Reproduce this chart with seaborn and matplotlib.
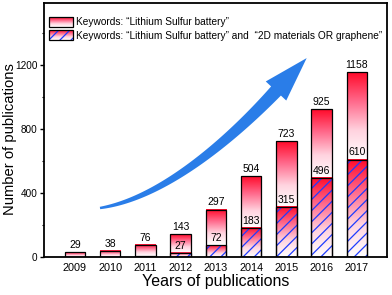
import numpy as np
import pandas as pd
import matplotlib
matplotlib.use("Agg")
import matplotlib.pyplot as plt
import seaborn as sns
from matplotlib.colors import LinearSegmentedColormap
from matplotlib.patches import Rectangle, Polygon
from matplotlib.image import BboxImage
from matplotlib.transforms import Bbox, TransformedBbox, Affine2D
from matplotlib.legend_handler import HandlerBase
from matplotlib.ticker import AutoMinorLocator

# ── Data ─────────────────────────────────────────────────────────────────────
years = ["2009", "2010", "2011", "2012", "2013", "2014", "2015", "2016", "2017"]
total = [29, 38, 76, 143, 297, 504, 723, 925, 1158]
graphene = [0, 0, 5, 27, 72, 183, 315, 496, 610]
graphene_labels = ["", "", "", "27", "72", "183", "315", "496", "610"]

legend_labels = [
    "Keywords: \u201cLithium Sulfur battery\u201d",
    "Keywords: \u201cLithium Sulfur battery\u201d and  \u201c2D materials OR graphene\u201d",
]

RED_WHITE = LinearSegmentedColormap.from_list(
    "red_white", ["#ffffff", "#ffd3df", "#ff6a8c", "#ff0a2a"])
HATCH_BLUE = "#1f3cff"
ARROW_BLUE = "#2a7de8"
W, H = 392, 295

sns.set_theme(style="ticks")
plt.rcParams["font.family"] = ["Liberation Sans", "DejaVu Sans"]
plt.rcParams["hatch.linewidth"] = 0.9
plt.rcParams["text.color"] = "black"
plt.rcParams["axes.labelcolor"] = "black"
plt.rcParams["xtick.color"] = "black"
plt.rcParams["ytick.color"] = "black"

df = pd.DataFrame({"year": years, "total": total, "graphene": graphene})

fig = plt.figure(figsize=(W / 100, H / 100), dpi=100)
ax = fig.add_axes([0.111, 0.129, 0.876, 0.861])

sns.barplot(data=df, x="year", y="total", width=0.58, color="white",
            edgecolor="black", linewidth=0.9, errorbar=None, ax=ax)
sns.barplot(data=df, x="year", y="graphene", width=0.58, color="white",
            edgecolor="black", linewidth=0.9, errorbar=None, ax=ax)

outer = ax.containers[0]
inner = ax.containers[1]
grad = np.linspace(0, 1, 256).reshape(-1, 1)

for p_out, p_in in zip(outer.patches, inner.patches):
    x0, w = p_out.get_x(), p_out.get_width()
    top, mid = p_out.get_height(), p_in.get_height()
    # outer gradient over the visible part of the bar
    ax.imshow(grad, cmap=RED_WHITE, origin="lower", aspect="auto",
              extent=(x0, x0 + w, mid, top), zorder=1.5, interpolation="bilinear")
    # inner gradient
    if mid > 0:
        ax.imshow(grad, cmap=RED_WHITE, origin="lower", aspect="auto",
                  extent=(x0, x0 + w, 0, mid), zorder=1.6, interpolation="bilinear")
    p_out.set_facecolor("none")
    p_out.set_zorder(3)
    # hatch on inner bar
    p_in.set_facecolor("none")
    p_in.set_edgecolor(HATCH_BLUE)
    p_in.set_hatch("///")
    p_in.set_linewidth(0)
    p_in.set_zorder(2)
    ax.add_patch(Rectangle((x0, 0), w, mid, facecolor="none",
                           edgecolor="black", linewidth=0.9, zorder=3))

ax.bar_label(outer, labels=[str(v) for v in total], padding=1.5, fontsize=7.5, zorder=4)
ax.bar_label(inner, labels=graphene_labels, padding=1.5, fontsize=7.5, zorder=4)

# ── Trend arrow (decoration, in pixel space) ─────────────────────────────────
ctrl = np.array([[100, 208], [165, 198], [235, 135], [276, 91]], dtype=float)
t = np.linspace(0, 1, 100)[:, None]
curve = ((1 - t) ** 3 * ctrl[0] + 3 * (1 - t) ** 2 * t * ctrl[1]
         + 3 * (1 - t) * t ** 2 * ctrl[2] + t ** 3 * ctrl[3])
deriv = (3 * (1 - t) ** 2 * (ctrl[1] - ctrl[0]) + 6 * (1 - t) * t * (ctrl[2] - ctrl[1])
         + 3 * t ** 2 * (ctrl[3] - ctrl[2]))
unit = deriv / np.linalg.norm(deriv, axis=1, keepdims=True)
normal = np.column_stack([-unit[:, 1], unit[:, 0]])
half = (1.2 + 5.5 * t[:, 0] ** 0.9)[:, None]
left, right = curve + normal * half, curve - normal * half
u, n = unit[-1], normal[-1]
head = [ctrl[3] + n * 14, ctrl[3] + u * 45, ctrl[3] - n * 14]
arrow_xy = np.vstack([left, head, right[::-1]])
px_to_fig = Affine2D().scale(1 / W, -1 / H).translate(0, 1) + fig.transFigure
ax.add_patch(Polygon(arrow_xy, closed=True, facecolor=ARROW_BLUE, edgecolor="none",
                     transform=px_to_fig, zorder=2.5))

# ── Axes ─────────────────────────────────────────────────────────────────────
ax.set_xlim(-0.89, 8.85)
ax.set_ylim(0, 1590)
ax.set_yticks([0, 400, 800, 1200])
ax.yaxis.set_minor_locator(AutoMinorLocator(2))
ax.tick_params(axis="both", which="major", labelsize=7.8, length=2.8, width=1.0,
               direction="out", pad=1.5)
ax.tick_params(axis="y", which="major", labelsize=7.2)
ax.tick_params(axis="y", which="minor", length=1.8, width=0.8)
ax.tick_params(axis="x", length=0, pad=4)
for s in ax.spines.values():
    s.set_visible(True)
    s.set_linewidth(1.3)
    s.set_color("black")

ax.set_xlabel("Years of publications", fontsize=11.5, labelpad=1)
ax.set_ylabel("Number of publications", fontsize=10.6)
ax.yaxis.set_label_coords(-0.078, 0.466)


# ── Legend with gradient swatches ────────────────────────────────────────────
class GradientHandler(HandlerBase):
    def __init__(self, hatch=False):
        super().__init__()
        self.hatch = hatch

    def create_artists(self, legend, orig_handle, xdescent, ydescent,
                       width, height, fontsize, trans):
        bbox = TransformedBbox(Bbox.from_bounds(-xdescent, -ydescent, width, height), trans)
        img = BboxImage(bbox, cmap=RED_WHITE, interpolation="bilinear")
        img.set_data(grad[::-1])
        arts = [img]
        if self.hatch:
            arts.append(Rectangle((-xdescent, -ydescent), width, height,
                                  facecolor="none", edgecolor=HATCH_BLUE,
                                  hatch="///", linewidth=0, transform=trans))
        arts.append(Rectangle((-xdescent, -ydescent), width, height,
                              facecolor="none", edgecolor="black",
                              linewidth=0.9, transform=trans))
        return arts


h1, h2 = Rectangle((0, 0), 1, 1), Rectangle((0, 0), 1, 1)
ax.legend([h1, h2], legend_labels,
          handler_map={h1: GradientHandler(False), h2: GradientHandler(True)},
          loc="upper left", bbox_to_anchor=(0.0, 0.965), frameon=False,
          fontsize=7.3, handlelength=2.45, handleheight=1.1,
          handletextpad=0.3, labelspacing=0.3, borderaxespad=0.3, borderpad=0.2)

plt.savefig("out.png", dpi=100)
